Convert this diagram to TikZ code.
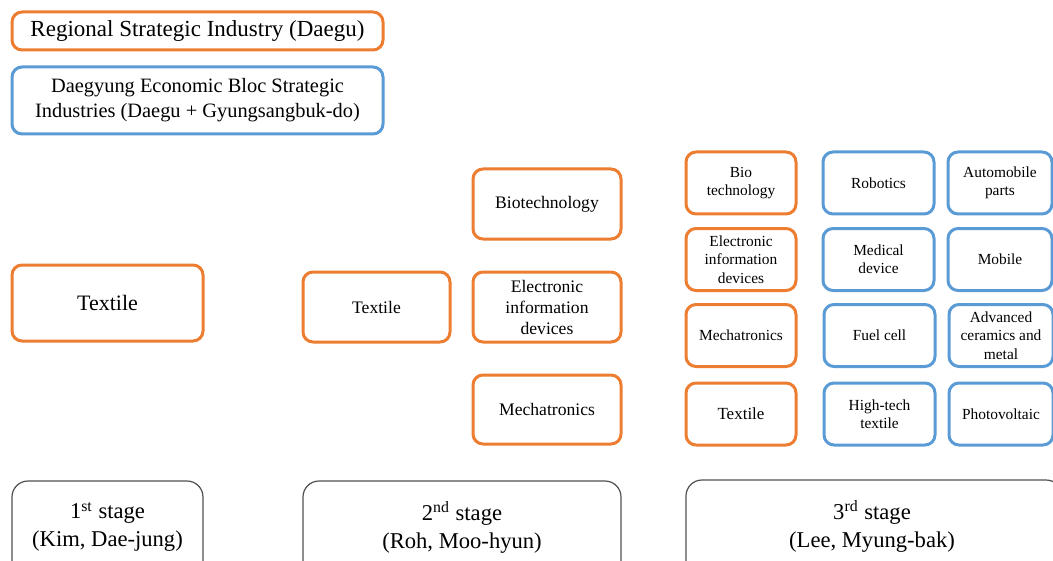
\documentclass[tikz,border=0pt]{standalone}
\usepackage{fontspec}
\setmainfont{Liberation Serif}
\definecolor{boxorange}{HTML}{ED7D31}
\definecolor{boxblue}{HTML}{5B9BD5}
\definecolor{stagegray}{HTML}{505050}

\begin{document}
\begin{tikzpicture}[x=0.5pt,y=-0.5pt,
  orangebox/.style={draw=boxorange,line width=1.5pt,rounded corners=5pt,align=center,inner sep=1pt},
  bluebox/.style={draw=boxblue,line width=1.5pt,rounded corners=5pt,align=center,inner sep=1pt},
  stagebox/.style={draw=stagegray,line width=0.6pt,rounded corners=8pt},
  stagetext/.style={align=center,font=\fontsize{11.3}{14}\selectfont},
  midbox/.style={minimum width=74pt,minimum height=35pt,font=\fontsize{8.8}{10.5}\selectfont},
  smallbox/.style={minimum height=31pt,font=\fontsize{7.7}{9.2}\selectfont}]
\useasboundingbox (0,0) rectangle (1053,561);
% legend
\node[orangebox,minimum width=185.5pt,minimum height=19pt,font=\fontsize{11.5}{14}\selectfont] (regional) at (197.5,31) {Regional Strategic Industry (Daegu)};
\node[bluebox,minimum width=185.5pt,minimum height=33.5pt,font=\fontsize{10.2}{12.5}\selectfont] (bloc) at (197.5,100.5) {Daegyung Economic Bloc Strategic\\Industries (Daegu + Gyungsangbuk-do)};
% 1st stage
\node[orangebox,minimum width=95.5pt,minimum height=38pt,font=\fontsize{11}{13}\selectfont] (textileA) at (107.5,303) {Textile};
% 2nd stage
\node[orangebox,midbox,minimum width=73.5pt] (textileB) at (376.5,307) {Textile};
\node[orangebox,midbox] (bioB) at (547,204) {Biotechnology};
\node[orangebox,midbox] (elecB) at (547,307) {Electronic\\information\\devices};
\node[orangebox,midbox,minimum height=34.5pt] (mechB) at (547,409.5) {Mechatronics};
% 3rd stage
\node[orangebox,smallbox,minimum width=55pt] (bioC) at (741,183) {Bio\\technology};
\node[orangebox,smallbox,minimum width=55pt] (elecC) at (741,259.5) {Electronic\\information\\devices};
\node[orangebox,smallbox,minimum width=55pt] (mechC) at (741,335.5) {Mechatronics};
\node[orangebox,smallbox,minimum width=55pt,font=\fontsize{8.5}{10}\selectfont] (textileC) at (741,414) {Textile};
\node[bluebox,smallbox,minimum width=55.5pt] (robot) at (878.5,183) {Robotics};
\node[bluebox,smallbox,minimum width=55.5pt] (medical) at (878.5,259.5) {Medical\\device};
\node[bluebox,smallbox,minimum width=55.5pt] (fuel) at (879.5,335.5) {Fuel cell};
\node[bluebox,smallbox,minimum width=55.5pt] (hightech) at (879.5,414) {High-tech\\textile};
\node[bluebox,smallbox,minimum width=52pt] (auto) at (1000,183) {Automobile\\parts};
\node[bluebox,smallbox,minimum width=52pt] (mobile) at (1000,259.5) {Mobile};
\node[bluebox,smallbox,minimum width=52pt] (ceramic) at (1001,335.5) {Advanced\\ceramics and\\metal};
\node[bluebox,smallbox,minimum width=52pt] (photo) at (1001,414) {Photovoltaic};
% stages
\node[stagebox,minimum width=95.5pt,minimum height=69.5pt] (stageA) at (107.5,550.5) {};
\node[stagebox,minimum width=159pt,minimum height=69.5pt] (stageB) at (462,550.5) {};
\node[stagebox,minimum width=188pt,minimum height=70pt] (stageC) at (874,550) {};
\node[stagetext] (stageAtext) at (107.5,527) {1\textsuperscript{st} stage\\(Kim, Dae-jung)};
\node[stagetext] (stageBtext) at (462,527) {2\textsuperscript{nd} stage\\(Roh, Moo-hyun)};
\node[stagetext] (stageCtext) at (872,526) {3\textsuperscript{rd} stage\\(Lee, Myung-bak)};
\end{tikzpicture}
\end{document}
